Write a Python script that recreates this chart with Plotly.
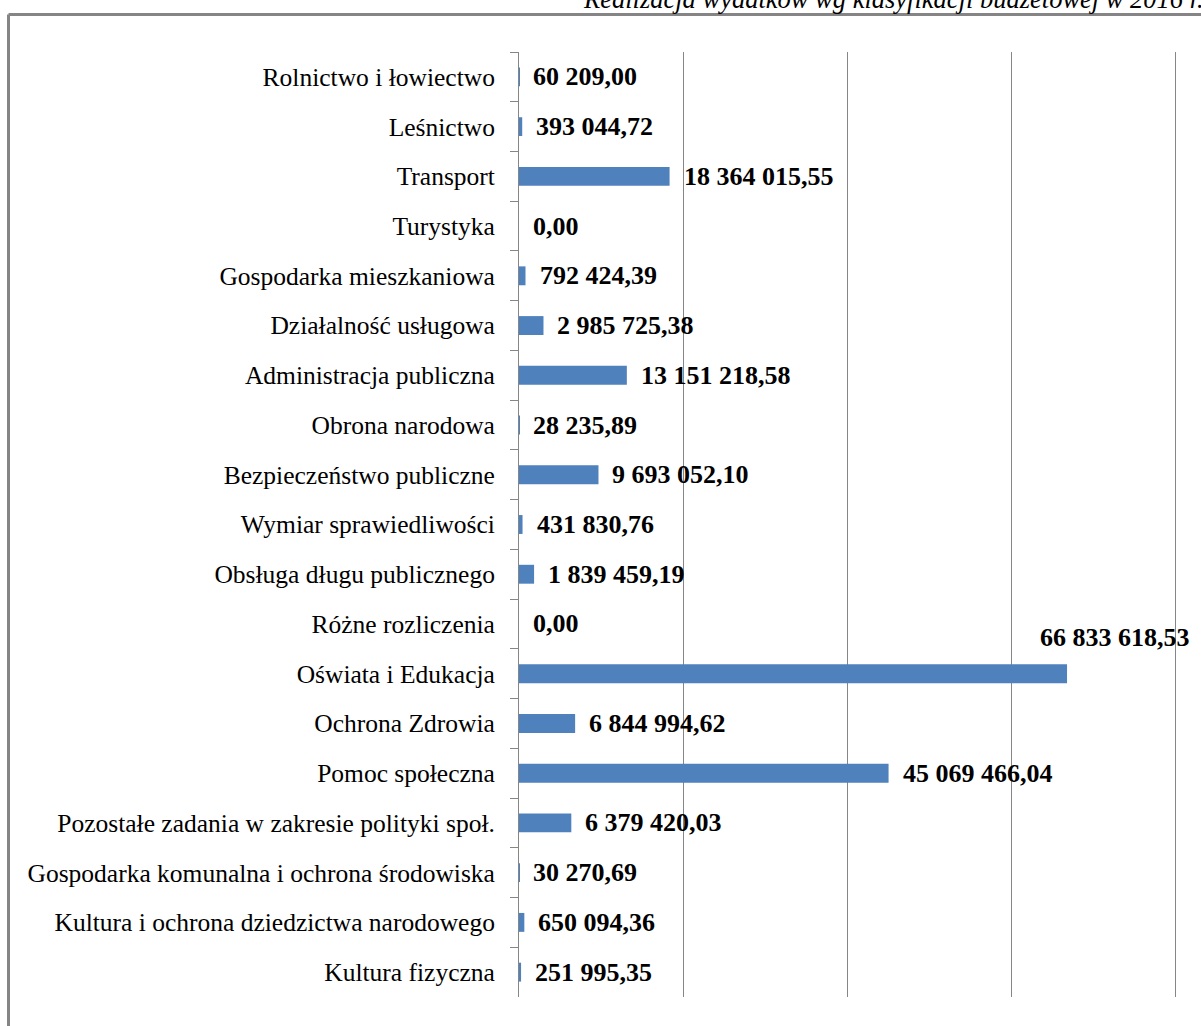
import plotly.graph_objects as go

# data
categories = [
    "Rolnictwo i łowiectwo",
    "Leśnictwo",
    "Transport",
    "Turystyka",
    "Gospodarka mieszkaniowa",
    "Działalność usługowa",
    "Administracja publiczna",
    "Obrona narodowa",
    "Bezpieczeństwo publiczne",
    "Wymiar sprawiedliwości",
    "Obsługa długu publicznego",
    "Różne rozliczenia",
    "Oświata i Edukacja",
    "Ochrona Zdrowia",
    "Pomoc społeczna",
    "Pozostałe zadania w zakresie polityki społ.",
    "Gospodarka komunalna i ochrona środowiska",
    "Kultura i ochrona dziedzictwa narodowego",
    "Kultura fizyczna",
]
values = [
    60209.00, 393044.72, 18364015.55, 0.00, 792424.39, 2985725.38,
    13151218.58, 28235.89, 9693052.10, 431830.76, 1839459.19, 0.00,
    66833618.53, 6844994.62, 45069466.04, 6379420.03, 30270.69,
    650094.36, 251995.35,
]
title_text = "Realizacja wydatków wg klasyfikacji budżetowej w 2016 r."

W, H = 1201, 1026
BAR_COLOR = "#4F81BD"
GRID = "#868686"
SERIF = "Liberation Serif, Times New Roman, serif"


def pl_fmt(v):
    return f"{v:,.2f}".replace(",", " ").replace(".", ",")


fig = go.Figure(go.Bar(
    x=values, y=categories, orientation="h",
    marker=dict(color=BAR_COLOR, line=dict(width=0)),
    hoverinfo="skip",
))

# data labels (largest one sits above its bar, like Excel does)
vmax = max(values)
for cat, v in zip(categories, values):
    big = v == vmax
    fig.add_annotation(
        x=v, y=cat, xref="x", yref="y",
        text=f"<b>{pl_fmt(v)}</b>", showarrow=False,
        xanchor="center" if big else "left", yanchor="middle",
        xshift=48 if big else 12, yshift=36 if big else 0,
        font=dict(family=SERIF, size=26, color="#000000"),
    )

# cut-off title at the top
fig.add_annotation(
    x=1206 / W, y=1 - 16 / H, xref="paper", yref="paper",
    text=f"<i>{title_text}</i>", showarrow=False,
    xanchor="right", yanchor="bottom",
    font=dict(family=SERIF, size=26.5, color="#000000"),
)

# chart-area border
fig.add_shape(type="line", xref="paper", yref="paper",
              x0=8.5 / W, x1=1.05, y0=1 - 14.5 / H, y1=1 - 14.5 / H,
              line=dict(color="#858585", width=3))
fig.add_shape(type="line", xref="paper", yref="paper",
              x0=8.5 / W, x1=8.5 / W, y0=-0.05, y1=1 - 14.5 / H,
              line=dict(color="#858585", width=3))

fig.update_layout(
    width=W, height=H,
    margin=dict(l=0, r=0, t=0, b=0),
    paper_bgcolor="white", plot_bgcolor="white",
    bargap=0.62, showlegend=False,
    template="none",
)
fig.update_xaxes(
    domain=[519 / W, 1183.2 / W],
    range=[0, 81e6], tickvals=[20e6, 40e6, 60e6, 80e6],
    showticklabels=False, showgrid=True, gridcolor=GRID, gridwidth=1,
    zeroline=False, showline=False, ticks="", automargin=False,
)
fig.update_yaxes(
    domain=[29 / H, 974 / H],
    autorange="reversed", type="category",
    showline=True, linecolor=GRID, linewidth=1,
    ticks="outside", tickson="boundaries", ticklen=8, tickcolor=GRID,
    ticklabelstandoff=18, showgrid=False, zeroline=False,
    tickfont=dict(family=SERIF, size=25.5, color="#000000"),
    automargin=False,
)

fig.write_html("out.html", config={"displayModeBar": False},
               post_script="document.body.style.margin='0';document.body.style.overflow='hidden';")
